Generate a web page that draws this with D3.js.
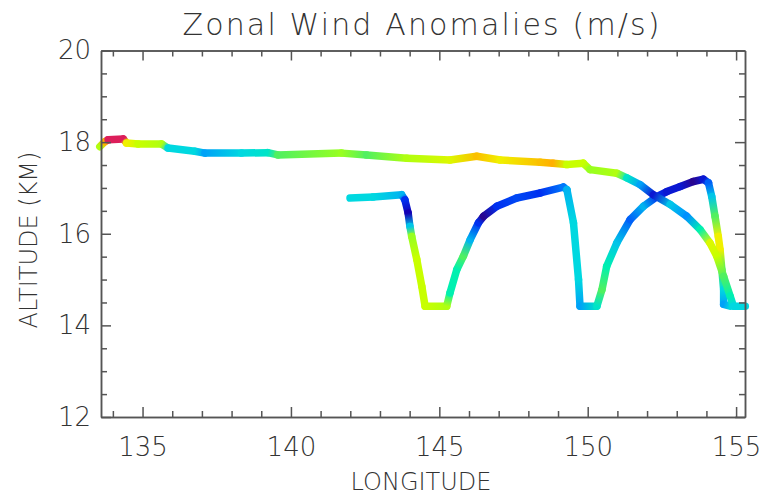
<html>
  <head>
    <meta charset="utf-8">
    <title>Zonal Wind Anomalies</title>
    <style>
    body{
      margin: 0;
      background-color: #fff;
    }
    text{
      font-family: "DejaVu Sans", sans-serif;
      font-weight: 200;
      fill: #333;
    }
    .axis path, .axis line{
      stroke: #555;
      stroke-width: 1.5;
    }
    </style>
    <script src="https://d3js.org/d3.v7.min.js"></script>
  </head>
  <body>
    <div id="container"></div>
    <script>
    //size of the picture and the plot box inside it
    const width = 763,
          height = 497;
    const margin = {top: 50.5, right: 18, bottom: 80, left: 101};

    //upper flight leg: longitude, altitude (km), zonal wind anomaly (m/s)
    var upperLon  = [133.56, 133.73, 133.84, 134.35, 134.46, 134.85, 135.64, 135.86, 136.76, 137.10, 138.34, 139.22, 139.56, 141.71, 142.55, 143.90, 145.36, 146.26, 147.05, 148.40, 148.83, 149.30, 149.85, 150.08, 150.98, 151.32, 151.77, 152.21, 152.78, 153.34, 153.79, 154.12, 154.35, 154.58, 154.80, 154.91, 155.31];
    var upperAlt  = [17.90, 18.01, 18.05, 18.07, 17.98, 17.96, 17.96, 17.87, 17.80, 17.76, 17.76, 17.77, 17.72, 17.76, 17.72, 17.65, 17.61, 17.69, 17.61, 17.56, 17.54, 17.51, 17.54, 17.40, 17.32, 17.22, 17.07, 16.85, 16.64, 16.38, 16.09, 15.80, 15.51, 15.07, 14.64, 14.42, 14.42];
    var upperWind = [1.5, 5, 10, 10, 3, 2, 1.5, -2, -2, -3.5, -2, -1.5, 0, 1, 0, 1.5, 2.5, 4.5, 3, 4.5, 5, 2, 2, 1, 1.5, -1.5, -3.5, -7, -2.5, -4, -1, 2.5, 2, 0, -1, -2, -2];

    //lower flight leg with the dives
    var lowerLon  = [141.99, 142.77, 143.73, 143.84, 143.95, 144.01, 144.07, 144.24, 144.41, 144.52, 145.25, 145.36, 145.59, 145.81, 146.04, 146.32, 146.49, 146.94, 147.61, 148.40, 149.18, 149.30, 149.52, 149.69, 149.74, 150.31, 150.48, 150.64, 150.98, 151.43, 151.88, 152.33, 152.67, 153.12, 153.56, 153.90, 154.07, 154.18, 154.29, 154.40, 154.46, 154.52, 154.58, 154.58, 154.80];
    var lowerAlt  = [16.78, 16.80, 16.85, 16.74, 16.45, 16.16, 15.94, 15.44, 14.85, 14.42, 14.42, 14.71, 15.22, 15.51, 15.87, 16.24, 16.38, 16.60, 16.78, 16.89, 17.02, 16.96, 16.24, 15.00, 14.42, 14.42, 14.78, 15.29, 15.80, 16.31, 16.60, 16.81, 16.92, 17.03, 17.14, 17.19, 17.11, 16.81, 16.38, 15.94, 15.65, 15.22, 14.78, 14.46, 14.42];
    var lowerWind = [-2, -2, -3, -6, -8, -2.5, 1, 2, 2, 2, 1.5, -1, -1, 0, -3, -6, -9, -6, -5.5, -6, -4.5, -3, -2, -2, -3.5, -1.5, 0, -1, -2.5, -5, -3, -6, -7, -7, -9, -7, -5, -2.5, 0, 3, 3, 0, -2, -3.5, -2];

    //axis ticks
    var xTicks = [135, 140, 145, 150, 155];
    var xMinor = [134, 136, 137, 138, 139, 141, 142, 143, 144, 146, 147, 148, 149, 151, 152, 153, 154];
    var yTicks = [12, 14, 16, 18, 20];
    var yMinor = [12.5, 13, 13.5, 14.5, 15, 15.5, 16.5, 17, 17.5, 18.5, 19, 19.5];

    //rainbow colour table for the wind anomaly
    var windStops  = [-10, -8, -6, -4, -2, -1, 0, 1, 2, 3, 5, 7, 10];
    var windColors = ["#3c0a6e", "#1400b4", "#0030f0", "#0090ff", "#00d8e0", "#00f0b0", "#50f060", "#98ff20", "#c8ff00", "#f0f000", "#ffb000", "#ff5030", "#dc1e5a"];

    var svg = d3.select("#container")
      .append("svg")
      .attr("width", width)
      .attr("height", height);

    var x = d3.scaleLinear()
      .domain([133.6, 155.3])
      .range([margin.left, width - margin.right]);
    var y = d3.scaleLinear()
      .domain([12, 20])
      .range([height - margin.bottom, margin.top]);
    var color = d3.scaleLinear()
      .domain(windStops)
      .range(windColors)
      .interpolate(d3.interpolateRgb)
      .clamp(true);

    var defs = svg.append("defs");

    //each piece of the track is a thick line whose colour runs from one sample to the next
    function drawTrack(lon, alt, wind, name){
      var pts = lon.map(function(d, i){
        return {x: x(d), y: y(alt[i]), c: color(wind[i])};
      });
      var segs = d3.pairs(pts);
      segs.forEach(function(s, i){
        var g = defs.append("linearGradient")
          .attr("id", name + i)
          .attr("gradientUnits", "userSpaceOnUse")
          .attr("x1", s[0].x).attr("y1", s[0].y)
          .attr("x2", s[1].x).attr("y2", s[1].y + 0.01);
        g.append("stop").attr("offset", 0).attr("stop-color", s[0].c);
        g.append("stop").attr("offset", 1).attr("stop-color", s[1].c);
      });
      svg.append("g")
        .selectAll("line")
        .data(segs)
        .enter()
        .append("line")
        .attr("x1", function(d){ return d[0].x; })
        .attr("y1", function(d){ return d[0].y; })
        .attr("x2", function(d){ return d[1].x; })
        .attr("y2", function(d){ return d[1].y; })
        .attr("stroke", function(d, i){ return "url(#" + name + i + ")"; })
        .attr("stroke-width", 7.5)
        .attr("stroke-linecap", "round");
    }

    drawTrack(lowerLon, lowerAlt, lowerWind, "low");
    drawTrack(upperLon, upperAlt, upperWind, "up");

    //box with inward ticks on all four sides
    var bottom = height - margin.bottom,
        right = width - margin.right;

    function addAxis(axis, tx, ty, labels){
      var g = svg.append("g")
        .attr("class", "axis")
        .attr("transform", "translate(" + tx + "," + ty + ")")
        .call(axis);
      if (!labels) g.selectAll("text").remove();
      return g;
    }

    addAxis(d3.axisBottom(x).tickValues(xTicks).tickSize(-10).tickSizeOuter(0).tickPadding(21).tickFormat(d3.format("d")), 0, bottom, true);
    addAxis(d3.axisBottom(x).tickValues(xMinor).tickSize(-6).tickSizeOuter(0), 0, bottom, false);
    addAxis(d3.axisTop(x).tickValues(xTicks).tickSize(-10).tickSizeOuter(0), 0, margin.top, false);
    addAxis(d3.axisTop(x).tickValues(xMinor).tickSize(-6).tickSizeOuter(0), 0, margin.top, false);
    addAxis(d3.axisLeft(y).tickValues(yTicks).tickSize(-10).tickSizeOuter(0).tickPadding(10).tickFormat(d3.format("d")), margin.left, 0, true);
    addAxis(d3.axisLeft(y).tickValues(yMinor).tickSize(-6).tickSizeOuter(0), margin.left, 0, false);
    addAxis(d3.axisRight(y).tickValues(yTicks).tickSize(-10).tickSizeOuter(0), right, 0, false);
    addAxis(d3.axisRight(y).tickValues(yMinor).tickSize(-6).tickSizeOuter(0), right, 0, false);

    svg.selectAll(".axis text")
      .style("font-family", "\"DejaVu Sans\", sans-serif")
      .style("font-size", "26px")
      .style("font-weight", 200)
      .style("fill", "#333");

    //titles
    svg.append("text")
      .attr("x", 421)
      .attr("y", 35)
      .attr("text-anchor", "middle")
      .attr("textLength", 477)
      .style("font-size", "30px")
      .text("Zonal Wind Anomalies (m/s)");

    svg.append("text")
      .attr("x", 421)
      .attr("y", 490)
      .attr("text-anchor", "middle")
      .style("font-size", "24px")
      .text("LONGITUDE");

    svg.append("text")
      .attr("transform", "translate(37,240) rotate(-90)")
      .attr("text-anchor", "middle")
      .style("font-size", "24px")
      .text("ALTITUDE (KM)");
    </script>
  </body>
</html>
